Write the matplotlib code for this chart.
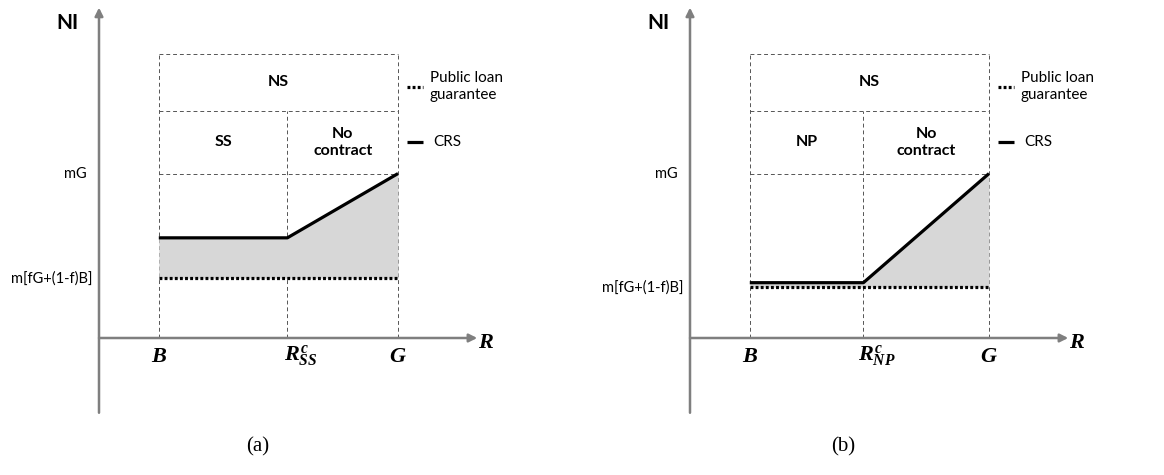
import matplotlib
matplotlib.use('Agg')
import matplotlib.pyplot as plt

plt.rcParams['font.family'] = ['Lato', 'DejaVu Sans']
plt.rcParams['mathtext.fontset'] = 'custom'
plt.rcParams['mathtext.it'] = 'Liberation Serif:bold:italic'
plt.rcParams['mathtext.rm'] = 'Liberation Serif:bold'
plt.rcParams['mathtext.bf'] = 'Liberation Serif:bold'

# diagram values (abstract units, B..G on the R axis)
R_B = 2.0
R_G = 10.0
R_cut = [6.3, 5.8]            # R^c for panel a / panel b
NI_mG = 5.5
NI_floor = [2.0, 1.7]         # public loan guarantee level
NI_crs = [3.35, 1.85]         # CRS flat part
box_mid = 7.6
box_top = 9.5
left_region = ['SS', 'NP']
cut_sub = ['SS', 'NP']
captions = ['(a)', '(b)']
floor_label = 'm[fG+(1-f)B]'
mG_label = 'mG'

S = 29.9  # pixels per unit
W, H = 1164, 475
panels = [(0, 580, 99), (580, 584, 690)]  # left px, width px, y-axis px
ORIGIN_Y = 338
cap_x = [5.32, 5.12]

fig = plt.figure(figsize=(W / 100, H / 100), dpi=100)

grey = '#7f7f7f'
dash_col = '#555555'

for i, (left, width, ox) in enumerate(panels):
    ax = fig.add_axes([left / W, 0, width / W, 1])
    ax.set_xlim((left - ox) / S, (left + width - ox) / S)
    ax.set_ylim((ORIGIN_Y - H) / S, ORIGIN_Y / S)
    ax.axis('off')

    # axes with arrows
    ax.annotate('', xy=(0, 11.05), xytext=(0, -2.5),
                arrowprops=dict(arrowstyle='-|>', color=grey, lw=1.8,
                                mutation_scale=12, shrinkA=0, shrinkB=0))
    ax.annotate('', xy=(12.65, 0), xytext=(0, 0),
                arrowprops=dict(arrowstyle='-|>', color=grey, lw=1.8,
                                mutation_scale=12, shrinkA=0, shrinkB=0))

    # dashed frame
    dkw = dict(color=dash_col, lw=0.7, linestyle=(0, (4, 3)), zorder=1)
    ax.plot([R_B, R_B], [0, box_top], **dkw)
    ax.plot([R_G, R_G], [0, box_top], **dkw)
    ax.plot([R_cut[i], R_cut[i]], [0, box_mid], **dkw)
    for yy in [box_top, box_mid, NI_mG]:
        ax.plot([R_B, R_G], [yy, yy], **dkw)

    xs = [R_B, R_cut[i], R_G]
    ys = [NI_crs[i], NI_crs[i], NI_mG]
    ax.fill_between(xs, [NI_floor[i]] * 3, ys, color='#d7d7d7', lw=0, zorder=2)
    ax.plot([R_B, R_G], [NI_floor[i]] * 2, color='black', lw=2.3,
            linestyle=(0, (0.9, 0.7)), zorder=3)
    ax.plot(xs, ys, color='black', lw=2.3, zorder=4, solid_capstyle='butt')

    # region labels
    ax.text((R_B + R_G) / 2, (box_mid + box_top) / 2, 'NS', ha='center',
            va='center', fontsize=11.5, fontweight='bold')
    ax.text((R_B + R_cut[i]) / 2, (NI_mG + box_mid) / 2, left_region[i],
            ha='center', va='center', fontsize=11.5, fontweight='bold')
    ax.text((R_cut[i] + R_G) / 2, (NI_mG + box_mid) / 2, 'No\ncontract',
            ha='center', va='center', fontsize=11.5, fontweight='bold',
            linespacing=1.25)

    # axis labels
    ax.text(-1.07, 10.53, 'NI', ha='center', va='center', fontsize=15,
            fontweight='bold')
    ax.text(-0.40, NI_mG, mG_label, ha='right', va='center', fontsize=10.5)
    ax.text(-0.23, NI_floor[i], floor_label, ha='right', va='center',
            fontsize=10.5)
    ax.text(R_B, -0.6, r'$B$', ha='center', va='center', fontsize=16)
    ax.text(R_G, -0.6, r'$G$', ha='center', va='center', fontsize=16)
    ax.text(R_cut[i] + 0.45, -0.6, r'$R^{c}_{%s}$' % cut_sub[i],
            ha='center', va='center', fontsize=16)
    ax.text(12.95, -0.13, r'$R$', ha='center', va='center', fontsize=16)

    # legend
    ax.plot([10.3, 10.82], [8.38, 8.38], color='black', lw=2.3,
            linestyle=(0, (0.9, 0.7)))
    ax.text(11.07, 8.42, 'Public loan\nguarantee', ha='left', va='center',
            fontsize=11, linespacing=1.25)
    ax.plot([10.3, 10.82], [6.55, 6.55], color='black', lw=2.3,
            solid_capstyle='butt')
    ax.text(11.17, 6.55, 'CRS', ha='left', va='center', fontsize=11)

    ax.text(cap_x[i], -3.65, captions[i], ha='center', va='center',
            fontsize=15, family='Liberation Serif')

fig.savefig('out.png', dpi=100)
